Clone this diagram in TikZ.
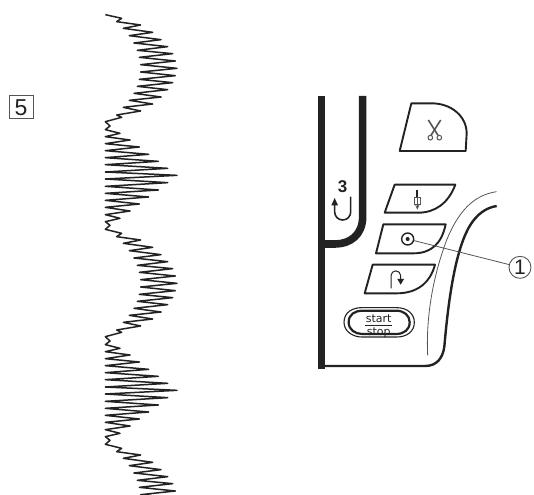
\documentclass[tikz,border=0pt]{standalone}
\usepackage{fontspec}
\setmainfont{Liberation Sans}
\newfontfamily\btnfont{DejaVu Sans}
\definecolor{ink}{HTML}{222222}
\definecolor{soft}{HTML}{555555}
\tikzset{
  zigzag/.style={draw=ink,line width=1.5pt,line join=round},
  heavy/.style={draw=ink,line width=7.6pt},
  body/.style={draw=ink,line width=2.4pt},
  hairline/.style={draw=soft,line width=0.8pt},
  button/.style={draw=ink,line width=1.9pt,line join=round,fill=white},
  icon/.style={draw=soft,line width=1.6pt},
  callout/.style={draw=soft,line width=0.8pt},
  numcircle/.style={circle,draw=soft,line width=0.9pt,minimum size=22pt,inner sep=0pt,font=\fontsize{21}{21}\selectfont,text=ink},
  numbox/.style={rectangle,draw=soft,line width=1pt,minimum width=24pt,minimum height=23pt,inner sep=0pt,font=\fontsize{23}{23}\selectfont,text=ink},
  lbl/.style={inner sep=0pt,text=ink},
}
\def\zzlist{125/55,110/65,182/75,130/85,218/97,148/107,243/119,162/129,263/140,172/151,278/161,178/172,286/183,182/194,291/205,182/216,286/227,178/238,278/248,172/259,263/269,162/280,243/291,148/301,218/312,130/322,182/333,110/345,125/352,76/365,90/378,76/389,120/400,76/410,150/420,76/431,178/441,76/452,206/463,76/473,235/484,76/494,263/505,76/516,291/526,76/537,263/548,76/559,235/570,76/580,206/591,76/601,178/612,76/622,150/633,76/644,120/655,76/665,90/676,76/688}
\begin{document}
\begin{tikzpicture}[x=1pt,y=-1pt]
\useasboundingbox (0,0) rectangle (534,494);
\clip (0,0) rectangle (534,494);
\node[numbox] (five) at (21,107.5) {5};
% stitch pattern
\begin{scope}[shift={(80,0)},x=0.33333pt,y=-0.33333pt]
\draw[zigzag] (76,44) \foreach \k in {0,1,2}{ \foreach \px/\py in \zzlist { -- (\px,{\py+645*\k}) } };
\end{scope}
% control panel
\begin{scope}[shift={(300,80)},x=0.33333pt,y=-0.33333pt]
\draw[heavy] (65,48) -- (65,866);
\draw[heavy] (188,48) -- (188,410) .. controls (188,465) and (150,492) .. (105,492) -- (65,492);
\draw[body] (65,858) -- (375,858) .. controls (410,858) and (428,835) .. (433,800)
   .. controls (445,660) and (465,520) .. (505,445) .. controls (530,400) and (560,383) .. (590,378);
\draw[hairline] (590,335) .. controls (520,345) and (475,395) .. (440,480)
   .. controls (395,600) and (378,720) .. (383,826);
% buttons
\draw[button] (334,70) -- (395,70) .. controls (455,70) and (500,110) .. (500,160) -- (497,213) -- (299,213) -- cycle;
\draw[button] (284,314) -- (466,314) .. controls (445,370) and (405,398) .. (355,398) -- (254,398) -- cycle;
\draw[button] (250,433) -- (437,433) .. controls (425,490) and (395,520) .. (340,520) -- (228,520) -- cycle;
\draw[button] (218,554) -- (405,554) .. controls (390,610) and (350,640) .. (290,640) -- (194,640) -- cycle;
% scissors
\draw[icon] (385,120) -- (414,166);
\draw[icon] (422,120) -- (393,166);
\draw[icon,line width=1pt] (391,173) circle (7);
\draw[icon,line width=1pt] (418,173) circle (7);
% needle
\draw[draw=ink,line width=1.8pt] (352,330) -- (352,350);
\draw[icon,line width=.8pt] (343,353) rectangle (361,373);
\draw[icon,line width=.8pt] (346,373) -- (352,386) -- (358,373);
\draw[icon,line width=.8pt] (352,350) -- (352,386);
% return arrow
\draw[draw=ink,line width=1pt] (273,625) -- (273,587) arc[start angle=180,end angle=360,radius=14.5] -- (302,600);
\fill[ink] (292,597) -- (312,597) -- (302,614) -- cycle;
% U-turn arrow with 3
\draw[draw=ink,line width=1.6pt] (152,350) -- (152,396) arc[start angle=0,end angle=180,radius=24] -- (104,370);
\fill[ink] (94,376) -- (114,376) -- (104,354) -- cycle;
\node[lbl,font=\fontsize{17}{17}\selectfont\bfseries] (three) at (128,320) {3};
% start/stop
\draw[draw=ink,line width=1.1pt] (132,727) .. controls (132,695) and (160,683) .. (185,683) -- (290,683) .. controls (320,683) and (343,700) .. (343,727) .. controls (343,755) and (320,771) .. (290,771) -- (185,771) .. controls (160,771) and (132,755) .. (132,727) -- cycle;
\draw[draw=ink,line width=2.2pt] (146,727) .. controls (146,703) and (165,692) .. (187,692) -- (288,692) .. controls (312,692) and (329,706) .. (329,727) .. controls (329,749) and (312,762) .. (288,762) -- (187,762) .. controls (165,762) and (146,749) .. (146,727) -- cycle;
\node[lbl,anchor=base,font=\btnfont\fontsize{11}{12}\selectfont] (st) at (236,727) {start};
\node[lbl,anchor=base,font=\btnfont\fontsize{11}{12}\selectfont] (sp) at (236,768) {stop};
\draw[draw=ink,line width=1.5pt] (195,736) -- (276,736);
% selected button dot and callout
\node[circle,draw=ink,line width=1.4pt,fill=white,minimum size=12pt,inner sep=0pt] (dot) at (323,477) {};
\fill[ink] (dot.center) circle (6);
\node[numcircle] (one) at (660,562) {1};
\draw[callout] (dot) -- (one);
\end{scope}
\end{tikzpicture}
\end{document}
